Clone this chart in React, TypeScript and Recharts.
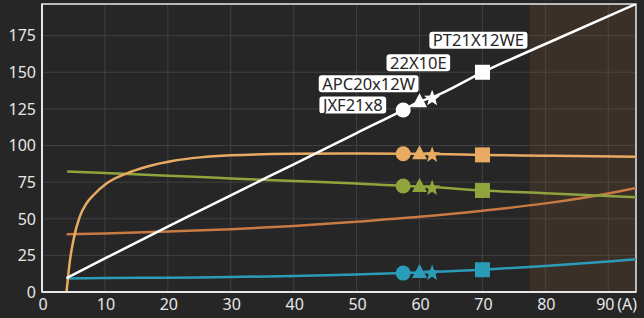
import React from "react";
import {
  ComposedChart,
  Line,
  Scatter,
  XAxis,
  YAxis,
  CartesianGrid,
  ReferenceArea,
} from "recharts";

// ---- data ----
const xTicks = [0, 10, 20, 30, 40, 50, 60, 70, 80, 90];
const yTicks = [0, 25, 50, 75, 100, 125, 150, 175];
const xMax = 94.4;
const yMax = 196.6;
const shadeFrom = 77.5;

const thrustX = [3.9, 10, 20, 25.1, 30, 40, 50, 57.4, 60, 62, 70, 80, 94.4];
const thrustY = [9.5, 22.9, 44.6, 55.5, 66, 87.2, 108.5, 124.2, 129.9, 132.9, 150, 169.3, 196.6];

const tanX = [3.9, 4.2, 4.45, 5, 6, 7, 8.2, 10.3, 13.5, 16.6, 20.9, 25.1, 30, 40, 50, 57.4, 60, 62, 70, 80, 94.4];
const tanY = [0, 12.7, 21.8, 35.5, 51.4, 60, 66.2, 74.2, 81, 85.5, 89.6, 91.9, 93.3, 94.3, 94.5, 94.4, 94.3, 94.2, 93.6, 93, 92.3];

const greenX = [4, 10, 20, 25.1, 30, 40, 50, 57.4, 60, 62, 70, 80, 94.4];
const greenY = [82.2, 81.2, 79.3, 78.5, 77.5, 75.8, 74, 72.4, 72, 71.6, 69.3, 67.4, 64.6];

const copperX = [3.9, 10, 20, 30, 40, 50, 60, 70, 80, 90, 94.4];
const copperY = [39.4, 40, 41.3, 42.8, 45, 48, 51.3, 55.5, 60.5, 67.3, 71];

const tealX = [3.9, 10, 20, 30, 40, 50, 57.4, 60, 62, 70, 80, 90, 94.4];
const tealY = [9.3, 9.5, 9.8, 10.2, 11, 12, 12.9, 13.3, 13.6, 15.2, 17.8, 20.8, 22.3];

const markerX = [57.4, 60, 62, 70];
const markerShapes = ["circle", "triangle", "star", "square"];
const propNames = ["JXF21x8", "APC20x12W", "22X10E", "PT21X12WE"];
const tanMarkY = [94.4, 94.3, 94.2, 93.6];
const greenMarkY = [72.4, 72, 71.6, 69.3];
const tealMarkY = [12.9, 13.3, 13.6, 15.2];
const thrustMarkY = [124.2, 129.9, 132.9, 150];

// ---- styles ----
const COLORS = {
  bg: "#262626",
  grid: "#404040",
  axis: "#e6e6e6",
  text: "#e6e6e6",
  white: "#ffffff",
  tan: "#e9ab61",
  green: "#8fa43c",
  copper: "#c97a42",
  teal: "#2b9cb8",
};
const FONT = "'Noto Sans', 'Open Sans', sans-serif";
const LABEL_SIZE = 16.5;
// label box: right edge offset and vertical center offset from marker
const labelOffsets: Record<string, { right: number; cy: number }> = {
  JXF21x8: { right: -17, cy: -5 },
  APC20x12W: { right: -1, cy: -18 },
  "22X10E": { right: 18, cy: -34.5 },
  PT21X12WE: { right: 45, cy: -32 },
};

const zip = (xs: number[], ys: number[]) => xs.map((x, i) => ({ x, y: ys[i] }));
const markers = (ys: number[]) =>
  markerX.map((x, i) => ({ x, y: ys[i], m: markerShapes[i], name: propNames[i] }));

let measureCtx: CanvasRenderingContext2D | null = null;
function textWidth(t: string, size: number) {
  if (typeof document === "undefined") return t.length * size * 0.55;
  if (!measureCtx) measureCtx = document.createElement("canvas").getContext("2d");
  if (!measureCtx) return t.length * size * 0.55;
  measureCtx.font = `${size}px 'Noto Sans'`;
  return measureCtx.measureText(t).width;
}

function starPath(cx: number, cy: number, R: number, r: number) {
  let d = "";
  for (let i = 0; i < 10; i++) {
    const rad = i % 2 === 0 ? R : r;
    const a = -Math.PI / 2 + (i * Math.PI) / 5;
    d += (i === 0 ? "M" : "L") + (cx + rad * Math.cos(a)).toFixed(2) + "," + (cy + rad * Math.sin(a)).toFixed(2);
  }
  return d + "Z";
}

function Marker({ cx, cy, m, color }: { cx: number; cy: number; m: string; color: string }) {
  if (m === "circle") return <circle cx={cx} cy={cy} r={7.5} fill={color} />;
  if (m === "triangle")
    return <path d={`M${cx},${cy - 8.5}L${cx + 7.5},${cy + 5.5}L${cx - 7.5},${cy + 5.5}Z`} fill={color} />;
  if (m === "star") return <path d={starPath(cx, cy + 1, 8.5, 3.6)} fill={color} />;
  return <rect x={cx - 7.5} y={cy - 7.5} width={15} height={15} fill={color} />;
}

const makeShape = (color: string, withLabel: boolean) => (props: any) => {
  const { cx, cy, payload } = props;
  if (cx == null || cy == null) return <g />;
  const m = payload?.m;
  const name = payload?.name;
  let label = null;
  if (withLabel && name) {
    const off = labelOffsets[name];
    const w = textWidth(name, LABEL_SIZE) + 7;
    const right = cx + off.right;
    const mid = cy + off.cy;
    label = (
      <g>
        <rect x={right - w} y={mid - 8.5} width={w} height={17} rx={3} fill="#ffffff" />
        <text
          x={right - 3.5}
          y={mid}
          dy="0.36em"
          textAnchor="end"
          fontSize={LABEL_SIZE}
          fontFamily={FONT}
          fill="#262626"
        >
          {name}
        </text>
      </g>
    );
  }
  return (
    <g>
      <Marker cx={cx} cy={cy} m={m} color={color} />
      {label}
    </g>
  );
};

const XTick = (props: any) => {
  const { x, y, payload } = props;
  const v = payload.value;
  if (v === 90) {
    return (
      <g>
        <text x={x - 3} y={y + 10} textAnchor="middle" fontSize={16} fontFamily={FONT} fill={COLORS.text}>
          90
        </text>
        <text x={x + 9} y={y + 10} textAnchor="start" fontSize={16} fontFamily={FONT} fill={COLORS.text}>
          (A)
        </text>
      </g>
    );
  }
  return (
    <text x={x + 1} y={y + 10} textAnchor="middle" fontSize={16} fontFamily={FONT} fill={COLORS.text}>
      {v}
    </text>
  );
};

const YTick = (props: any) => {
  const { x, y, payload } = props;
  return (
    <text x={x + 2} y={y} dy="0.36em" textAnchor="end" fontSize={16} fontFamily={FONT} fill={COLORS.text}>
      {payload.value}
    </text>
  );
};

export default function App() {
  return (
    <div style={{ position: "fixed", left: 0, top: 0, width: 644, height: 318, background: COLORS.bg }}>
      <ComposedChart width={644} height={318} margin={{ top: 4, right: 8, bottom: 0, left: 0 }}>
        <CartesianGrid stroke={COLORS.grid} strokeWidth={1} />
        <ReferenceArea
          x1={shadeFrom}
          x2={xMax}
          y1={0}
          y2={yMax}
          fill="#7a5030"
          fillOpacity={0.25}
          stroke="none"
          ifOverflow="hidden"
        />
        <XAxis
          type="number"
          dataKey="x"
          domain={[0, xMax]}
          ticks={xTicks}
          allowDataOverflow
          height={26}
          tickLine={false}
          axisLine={{ stroke: COLORS.axis, strokeWidth: 2 }}
          tick={<XTick />}
          interval={0}
        />
        <YAxis
          type="number"
          dataKey="y"
          domain={[0, yMax]}
          ticks={yTicks}
          allowDataOverflow
          width={42}
          tickLine={false}
          axisLine={{ stroke: COLORS.axis, strokeWidth: 2 }}
          tick={<YTick />}
          interval={0}
        />
        <ReferenceArea x1={0} x2={xMax} y1={0} y2={yMax} fill="none" stroke={COLORS.axis} strokeWidth={1.5} />
        <Line data={zip(copperX, copperY)} dataKey="y" type="monotone" stroke={COLORS.copper} strokeWidth={2.5} dot={false} isAnimationActive={false} />
        <Line data={zip(tealX, tealY)} dataKey="y" type="monotone" stroke={COLORS.teal} strokeWidth={2.5} dot={false} isAnimationActive={false} />
        <Line data={zip(greenX, greenY)} dataKey="y" type="monotone" stroke={COLORS.green} strokeWidth={2.5} dot={false} isAnimationActive={false} />
        <Line data={zip(tanX, tanY)} dataKey="y" type="monotone" stroke={COLORS.tan} strokeWidth={2.5} dot={false} isAnimationActive={false} />
        <Line data={zip(thrustX, thrustY)} dataKey="y" type="monotone" stroke={COLORS.white} strokeWidth={2.5} dot={false} isAnimationActive={false} />
        <Scatter data={markers(tealMarkY)} dataKey="y" shape={makeShape(COLORS.teal, false)} isAnimationActive={false} />
        <Scatter data={markers(greenMarkY)} dataKey="y" shape={makeShape(COLORS.green, false)} isAnimationActive={false} />
        <Scatter data={markers(tanMarkY)} dataKey="y" shape={makeShape(COLORS.tan, false)} isAnimationActive={false} />
        <Scatter data={markers(thrustMarkY)} dataKey="y" shape={makeShape(COLORS.white, true)} isAnimationActive={false} />
      </ComposedChart>
    </div>
  );
}
